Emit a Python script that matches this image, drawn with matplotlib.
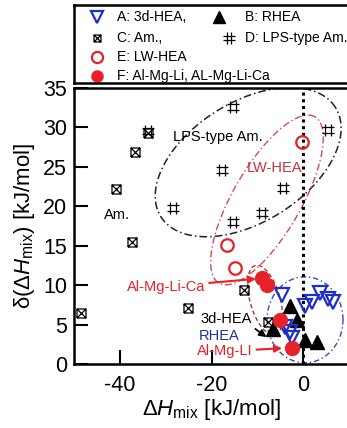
import numpy as np
import matplotlib
matplotlib.use("Agg")
import matplotlib.pyplot as plt
from matplotlib.path import Path

plt.rcParams.update({
    "font.family": ["Liberation Sans", "DejaVu Sans"],
    "axes.unicode_minus": False,
    "mathtext.fontset": "custom",
    "mathtext.rm": "Liberation Sans",
    "mathtext.it": "Liberation Sans:italic",
})

# A: 3d-HEA (open blue down triangles)
A_x = [-4.6, 0.4, 2.0, 3.7, 5.5, 6.6, -3.9, -2.8, -2.4]
A_y = [8.7, 7.3, 7.9, 9.0, 8.3, 7.9, 4.7, 4.1, 3.3]
# B: RHEA (black filled triangles)
B_x = [-2.8, -1.3, -6.6, 0.4, 3.0]
B_y = [7.3, 5.6, 4.5, 3.0, 2.8]
# C: Am. (boxed x)
C_x = [-33.9, -36.8, -40.8, -37.4, -48.4, -25.2, -12.9, -7.7]
C_y = [29.3, 26.9, 22.2, 15.5, 6.5, 7.1, 9.4, 5.3]
# D: LPS-type Am. (#)
D_x = [-33.9, -15.3, 5.5, -17.7, -4.4, -28.4, -15.3, -9.0]
D_y = [29.5, 32.6, 29.7, 24.6, 22.3, 19.8, 18.0, 19.1]
# E: LW-HEA (open red circles)
E_x = [-0.2, -16.6, -14.9]
E_y = [28.1, 15.1, 12.2]
# F: Al-Mg-Li, Al-Mg-Li-Ca (filled red circles)
F_x = [-9.0, -7.9, -5.0, -2.4]
F_y = [10.9, 10.0, 5.6, 2.0]

RED = "#e8202a"
BLUE = "#1f2ec8"

# custom markers
HASH = Path([(-0.7, 0.3), (0.7, 0.3), (-0.7, -0.3), (0.7, -0.3),
             (-0.3, 0.7), (-0.3, -0.7), (0.3, 0.7), (0.3, -0.7)],
            [Path.MOVETO, Path.LINETO] * 4)
BOXX = Path([(-1, -1), (1, -1), (1, 1), (-1, 1), (-1, -1),
             (-1, -1), (1, 1), (-1, 1), (1, -1)],
            [Path.MOVETO, Path.LINETO, Path.LINETO, Path.LINETO, Path.LINETO,
             Path.MOVETO, Path.LINETO, Path.MOVETO, Path.LINETO])

W, H = 347, 428
fig = plt.figure(figsize=(W / 100, H / 100), dpi=100)
ax_l, ax_b, ax_w, ax_h = 74, 64, 275, 276   # pixels
ax = fig.add_axes([ax_l / W, ax_b / H, ax_w / W, ax_h / H])
XMIN, XMAX, YMIN, YMAX = -50, 10, 0, 35
SX = ax_w / (XMAX - XMIN)
SY = ax_h / (YMAX - YMIN)


def ellipse(cx, cy, a, b, ang, **kw):
    t = np.linspace(0, 2 * np.pi, 300)
    th = np.deg2rad(ang)
    u, v = a * np.cos(t), b * np.sin(t)
    dx = u * np.cos(th) - v * np.sin(th)
    dy = u * np.sin(th) + v * np.cos(th)
    ax.plot(cx + dx / SX, cy + dy / SY, zorder=1, **kw)


ellipse(-12.0, 25.6, 103, 60, 32, color="#222222", lw=1.1, ls=(0, (5, 2, 1, 2)))
ellipse(-7.9, 20.8, 96, 34, 60, color="#d04a5a", lw=1.0, ls=(0, (5, 2, 1, 2)))
ellipse(-8.3, 8.1, 36, 15, 106, color="#a03838", lw=1.0, ls=(0, (3, 2)))
ellipse(0.4, 5.6, 38, 43, 0, color="#3848c0", lw=1.0, ls=(0, (4, 2, 1, 2)))

ax.axvline(0, color="black", ls=(0, (1, 1.2)), lw=2.2, zorder=1)

ax.plot(C_x, C_y, ls="none", marker=BOXX, ms=6.5, mfc="none", mec="black", mew=0.9, zorder=3)
ax.plot(D_x, D_y, ls="none", marker=HASH, ms=9, mec="black", mew=0.9, zorder=3)
ax.plot(E_x, E_y, ls="none", marker="o", ms=9, mfc="none", mec=RED, mew=1.6, zorder=3)
ax.plot(B_x, B_y, ls="none", marker="^", ms=9.5, mfc="black", mec="black", zorder=3)
ax.plot(A_x, A_y, ls="none", marker="v", ms=10, mfc="none", mec=BLUE, mew=1.6, zorder=4)
ax.plot(F_x, F_y, ls="none", marker="o", ms=10, mfc=RED, mec=RED, zorder=5)

# annotations
ax.text(-28.4, 28.8, "LPS-type Am.", fontsize=10.5, ha="left", va="center")
ax.text(-43.5, 18.9, "Am.", fontsize=10.5, ha="left", va="center")
ax.text(-12.3, 24.8, "LW-HEA", fontsize=10.5, ha="left", va="center", color="#c83040")
ax.annotate("Al-Mg-Li-Ca", xy=(-10.3, 10.8), xytext=(-38.5, 9.8), fontsize=10.5,
            color=RED, ha="left", va="center",
            arrowprops=dict(arrowstyle="-|>", color=RED, lw=1.5, shrinkA=1, shrinkB=0))
ax.annotate("3d-HEA", xy=(-8.0, 3.4), xytext=(-22.5, 5.7), fontsize=10.5,
            color="black", ha="left", va="center",
            arrowprops=dict(arrowstyle="-|>", color="black", lw=1.3, shrinkA=1, shrinkB=0,
                            relpos=(1.0, 0.0)))
ax.text(-22.8, 3.6, "RHEA", fontsize=10.5, ha="left", va="center", color="#2030a0")
ax.annotate("Al-Mg-LI", xy=(-4.6, 2.0), xytext=(-23.2, 1.6), fontsize=10.5,
            color=RED, ha="left", va="center",
            arrowprops=dict(arrowstyle="-|>", color=RED, lw=1.5, shrinkA=1, shrinkB=0))

ax.set_xlim(XMIN, XMAX)
ax.set_ylim(YMIN, YMAX)
ax.set_xticks([-40, -20, 0])
ax.set_yticks([0, 5, 10, 15, 20, 25, 30, 35])
ax.tick_params(direction="in", length=10, width=1.5, labelsize=15.5)
ax.tick_params(axis="x", pad=8)
ax.tick_params(axis="y", pad=5)
for s in ax.spines.values():
    s.set_linewidth(1.8)
ax.set_xlabel(r"$\Delta H_{\mathrm{mix}}$ [kJ/mol]", fontsize=16, labelpad=1)
ax.set_ylabel(r"$\mathrm{\delta}(\Delta H_{\mathrm{mix}})$ [kJ/mol]", fontsize=16, labelpad=4)

# legend box
lg = fig.add_axes([74 / W, (H - 83) / H, 280 / W, 78 / H])
lg.set_xlim(0, 280)
lg.set_ylim(78, 0)
lg.set_xticks([])
lg.set_yticks([])
for s in lg.spines.values():
    s.set_linewidth(1.8)
lg.plot([23], [12], marker="v", ms=9, mfc="none", mec=BLUE, mew=1.6, ls="none")
lg.text(43, 12, "A: 3d-HEA,", fontsize=10, va="center")
lg.plot([145], [12], marker="^", ms=8, mfc="black", mec="black", ls="none")
lg.text(171, 12, "B: RHEA", fontsize=10, va="center")
lg.plot([23], [33], marker=BOXX, ms=5, mfc="none", mec="black", mew=0.9, ls="none")
lg.text(43, 33, "C: Am.,", fontsize=10, va="center")
lg.plot([155], [33], marker=HASH, ms=8, mec="black", mew=0.9, ls="none")
lg.text(171, 33, "D: LPS-type Am.", fontsize=10, va="center")
lg.plot([23], [52], marker="o", ms=8, mfc="none", mec=RED, mew=1.6, ls="none")
lg.text(43, 52, "E: LW-HEA", fontsize=10, va="center")
lg.plot([23], [71], marker="o", ms=8, mfc=RED, mec=RED, ls="none")
lg.text(43, 71, "F: Al-Mg-Li, AL-Mg-Li-Ca", fontsize=10, va="center")

fig.savefig("out.png", dpi=100)
